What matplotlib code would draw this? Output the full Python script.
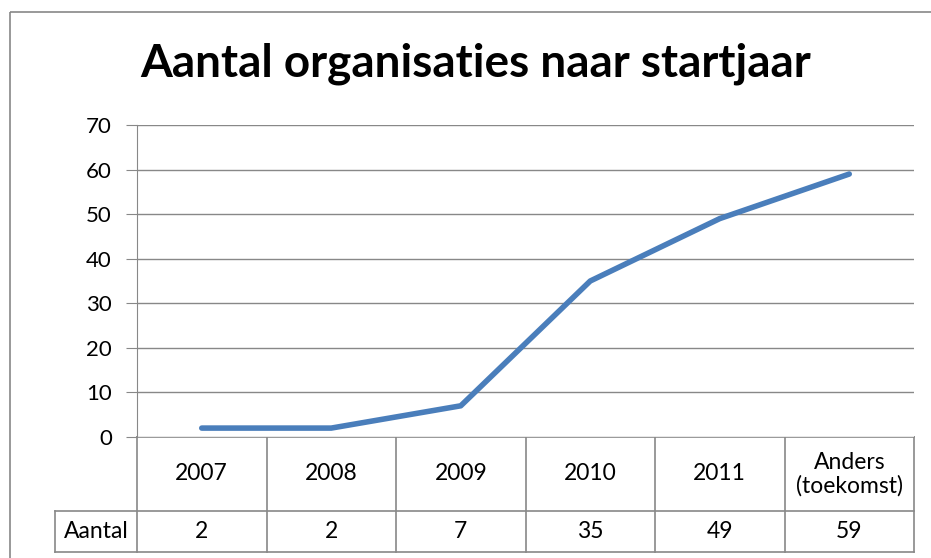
import matplotlib.pyplot as plt
from matplotlib.patches import Rectangle

# data
categories = ['2007', '2008', '2009', '2010', '2011', 'Anders\n(toekomst)']
aantal = [2, 2, 7, 35, 49, 59]
row_label = 'Aantal'
title = 'Aantal organisaties naar startjaar'

W, H = 931, 558
fig = plt.figure(figsize=(W / 100, H / 100), dpi=100)
plt.rcParams['font.family'] = ['Lato', 'DejaVu Sans']

grey = '#888888'
blue = '#4a7ebb'

# pixel-based layout
x0, x1 = 137, 914
y_top, y_zero = 125, 437
row1_bot, row2_bot = 511, 552
lab_left = 55

# overlay in pixel coords for frame and table
bg = fig.add_axes([0, 0, 1, 1])
bg.set_xlim(0, W)
bg.set_ylim(H, 0)
bg.axis('off')
bg.add_patch(Rectangle((10, 12), W + 10, H + 10, fill=False, edgecolor=grey, lw=1.2))

# main plot
ax = fig.add_axes([x0 / W, (H - y_zero) / H, (x1 - x0) / W, (y_zero - y_top) / H])
xs = list(range(len(categories)))
ax.plot(xs, aantal, color=blue, lw=4, solid_capstyle='round', solid_joinstyle='round')
ax.set_xlim(-0.5, len(categories) - 0.5)
ax.set_ylim(0, 70)
ax.set_yticks(range(0, 71, 10))
ax.set_xticks([])
ax.yaxis.grid(True, color=grey, lw=1)
ax.set_axisbelow(True)
for s in ['top', 'right', 'bottom']:
    ax.spines[s].set_visible(False)
ax.spines['left'].set_color(grey)
ax.tick_params(axis='y', length=8, color=grey, labelsize=16, pad=10)

fig.text(476 / W, 1 - 64 / H, title, ha='center', va='center',
         fontsize=33, fontweight='bold')

# table
n = len(categories)
colw = (x1 - x0) / n
kw = dict(color=grey, lw=1.2)
bg.plot([x0, x1], [y_zero, y_zero], **kw)
bg.plot([lab_left, x1], [row1_bot, row1_bot], **kw)
bg.plot([lab_left, x1], [row2_bot, row2_bot], **kw)
bg.plot([lab_left, lab_left], [row1_bot, row2_bot], **kw)
for i in range(n + 1):
    xx = x0 + i * colw
    bg.plot([xx, xx], [y_zero, row2_bot], **kw)
for i, (c, v) in enumerate(zip(categories, aantal)):
    cx = x0 + (i + 0.5) * colw
    bg.text(cx, (y_zero + row1_bot) / 2, c, ha='center', va='center',
            fontsize=16.5, linespacing=1.1)
    bg.text(cx, (row1_bot + row2_bot) / 2, str(v), ha='center', va='center', fontsize=16.5)
bg.text((lab_left + x0) / 2, (row1_bot + row2_bot) / 2, row_label,
        ha='center', va='center', fontsize=16.5)

fig.savefig('out.png', dpi=100)
